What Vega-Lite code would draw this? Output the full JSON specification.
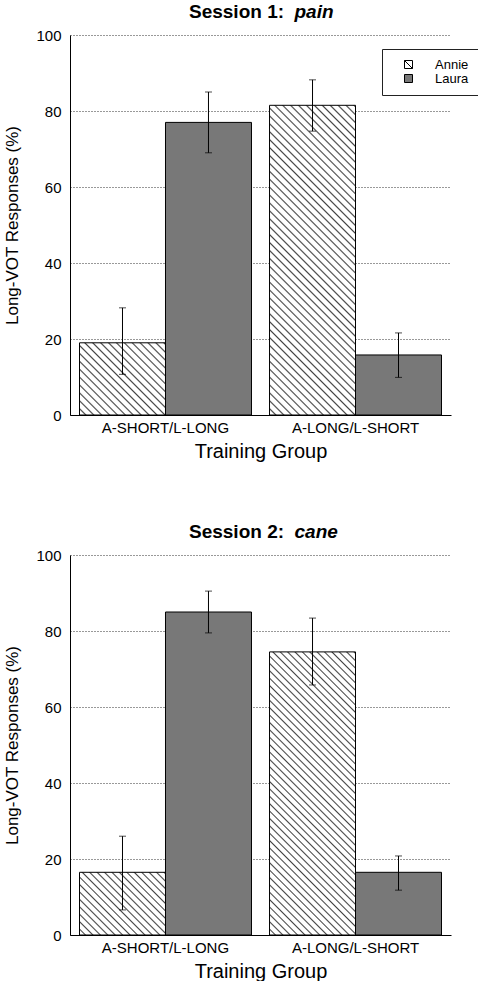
{
 "$schema": "https://vega.github.io/schema/vega-lite/v6.json",
 "background": "white",
 "padding": {"left": 3, "top": 2, "right": 0, "bottom": 0},
 "config": {
  "font": "Liberation Sans",
  "view": {"stroke": null},
  "axis": {"labelFont": "Liberation Sans", "titleFont": "Liberation Sans", "labelColor": "black", "titleColor": "black", "titleFontWeight": "normal"}
 },
 "data": {"values": [
  {"session": 1, "group": "A-SHORT/L-LONG", "speaker": "Annie", "value": 19, "lo": 10.7, "hi": 28.2},
  {"session": 1, "group": "A-SHORT/L-LONG", "speaker": "Laura", "value": 77, "lo": 69, "hi": 85},
  {"session": 1, "group": "A-LONG/L-SHORT", "speaker": "Annie", "value": 81.5, "lo": 74.7, "hi": 88.2},
  {"session": 1, "group": "A-LONG/L-SHORT", "speaker": "Laura", "value": 15.8, "lo": 9.9, "hi": 21.6},
  {"session": 2, "group": "A-SHORT/L-LONG", "speaker": "Annie", "value": 16.5, "lo": 6.6, "hi": 26},
  {"session": 2, "group": "A-SHORT/L-LONG", "speaker": "Laura", "value": 85, "lo": 79.5, "hi": 90.5},
  {"session": 2, "group": "A-LONG/L-SHORT", "speaker": "Annie", "value": 74.5, "lo": 65.8, "hi": 83.4},
  {"session": 2, "group": "A-LONG/L-SHORT", "speaker": "Laura", "value": 16.5, "lo": 11.8, "hi": 20.8}
 ]},
 "spacing": 61,
 "vconcat": [
  {
   "title": {"text": "Session 1:", "frame": "group", "fontSize": 19, "fontWeight": "bold", "anchor": "start", "dx": 119, "dy": 24, "color": "black", "font": "Liberation Sans"},
   "width": 381, "height": 380,
   "transform": [{"filter": "datum.session === 1"}],
   "resolve": {"axis": {"x": "independent"}},
   "layer": [
    {
     "mark": {"type": "bar", "stroke": "black", "strokeWidth": 1},
     "encoding": {
      "x": {"field": "group", "type": "nominal", "sort": ["A-SHORT/L-LONG", "A-LONG/L-SHORT"], "scale": {"paddingInner": 0.095, "paddingOuter": 0.05},
            "axis": {"title": "Training Group", "labelAngle": 0, "ticks": false, "domainColor": "black", "labelFontSize": 15, "titleFontSize": 20, "labelPadding": 5, "titlePadding": 6}},
      "xOffset": {"field": "speaker", "type": "nominal", "sort": ["Annie", "Laura"], "scale": {"paddingInner": 0, "paddingOuter": 0}},
      "y": {"field": "value", "type": "quantitative", "scale": {"domain": [0, 100]},
            "axis": {"title": "Long-VOT Responses (%)", "values": [0, 20, 40, 60, 80, 100], "ticks": false, "labelFontSize": 15, "labelPadding": 9, "titleFontSize": 17, "titlePadding": 14, "grid": true, "gridDash": [1, 2], "gridColor": "#333", "domainColor": "black"}},
      "fill": {
       "field": "speaker", "type": "nominal",
       "scale": {"domain": ["Annie", "Laura"], "range": ["#ffffff", "#787878"]},
       "legend": {
        "orient": "none", "legendX": 312, "legendY": 14, "title": null,
        "fillColor": "white", "strokeColor": "#222", "padding": 9,
        "symbolType": "square", "symbolSize": 64, "symbolStrokeColor": "black", "symbolStrokeWidth": 1,
        "symbolOffset": 11, "labelOffset": 20, "labelFontSize": 13, "labelFont": "Liberation Sans", "labelColor": "black", "rowPadding": -3,
        "encode": {"symbols": {"update": {"shape": {"signal": "datum.value === 'Annie' ? 'M-1,-1H1V1H-1ZM-1,-1L1,1' : 'square'"}}}}
       },
       "condition": [
        {"test": "datum.speaker === 'Annie' && datum.group === 'A-SHORT/L-LONG'", "value": {"gradient": "linear", "x1": 0, "y1": 1, "x2": 1.079, "y2": 0.094, "stops": [
{"offset":0,"color":"#fff"},{"offset":0.03,"color":"#fff"},{"offset":0.04,"color":"#444"},
{"offset":0.05,"color":"#fff"},{"offset":0.08,"color":"#fff"},{"offset":0.09,"color":"#444"},
{"offset":0.1,"color":"#fff"},{"offset":0.13,"color":"#fff"},{"offset":0.14,"color":"#444"},
{"offset":0.15,"color":"#fff"},{"offset":0.18,"color":"#fff"},{"offset":0.19,"color":"#444"},
{"offset":0.2,"color":"#fff"},{"offset":0.23,"color":"#fff"},{"offset":0.24,"color":"#444"},
{"offset":0.25,"color":"#fff"},{"offset":0.28,"color":"#fff"},{"offset":0.29,"color":"#444"},
{"offset":0.3,"color":"#fff"},{"offset":0.33,"color":"#fff"},{"offset":0.34,"color":"#444"},
{"offset":0.35,"color":"#fff"},{"offset":0.38,"color":"#fff"},{"offset":0.39,"color":"#444"},
{"offset":0.4,"color":"#fff"},{"offset":0.43,"color":"#fff"},{"offset":0.44,"color":"#444"},
{"offset":0.45,"color":"#fff"},{"offset":0.48,"color":"#fff"},{"offset":0.49,"color":"#444"},
{"offset":0.5,"color":"#fff"},{"offset":0.53,"color":"#fff"},{"offset":0.54,"color":"#444"},
{"offset":0.55,"color":"#fff"},{"offset":0.58,"color":"#fff"},{"offset":0.59,"color":"#444"},
{"offset":0.6,"color":"#fff"},{"offset":0.63,"color":"#fff"},{"offset":0.64,"color":"#444"},
{"offset":0.65,"color":"#fff"},{"offset":0.68,"color":"#fff"},{"offset":0.69,"color":"#444"},
{"offset":0.7,"color":"#fff"},{"offset":0.73,"color":"#fff"},{"offset":0.74,"color":"#444"},
{"offset":0.75,"color":"#fff"},{"offset":0.78,"color":"#fff"},{"offset":0.79,"color":"#444"},
{"offset":0.8,"color":"#fff"},{"offset":0.83,"color":"#fff"},{"offset":0.84,"color":"#444"},
{"offset":0.85,"color":"#fff"},{"offset":0.88,"color":"#fff"},{"offset":0.89,"color":"#444"},
{"offset":0.9,"color":"#fff"},{"offset":0.93,"color":"#fff"},{"offset":0.94,"color":"#444"},
{"offset":0.95,"color":"#fff"},{"offset":0.98,"color":"#fff"},{"offset":0.99,"color":"#444"},
{"offset":1,"color":"#fff"}]}},
        {"test": "datum.speaker === 'Annie' && datum.group === 'A-LONG/L-SHORT'", "value": {"gradient": "linear", "x1": 0, "y1": 1, "x2": 0.3294, "y2": -0.1862, "stops": [
{"offset":0,"color":"#fff"},{"offset":0.012,"color":"#fff"},{"offset":0.016,"color":"#444"},
{"offset":0.02,"color":"#fff"},{"offset":0.032,"color":"#fff"},{"offset":0.036,"color":"#444"},
{"offset":0.04,"color":"#fff"},{"offset":0.052,"color":"#fff"},{"offset":0.056,"color":"#444"},
{"offset":0.06,"color":"#fff"},{"offset":0.072,"color":"#fff"},{"offset":0.076,"color":"#444"},
{"offset":0.08,"color":"#fff"},{"offset":0.092,"color":"#fff"},{"offset":0.096,"color":"#444"},
{"offset":0.1,"color":"#fff"},{"offset":0.112,"color":"#fff"},{"offset":0.116,"color":"#444"},
{"offset":0.12,"color":"#fff"},{"offset":0.132,"color":"#fff"},{"offset":0.136,"color":"#444"},
{"offset":0.14,"color":"#fff"},{"offset":0.152,"color":"#fff"},{"offset":0.156,"color":"#444"},
{"offset":0.16,"color":"#fff"},{"offset":0.172,"color":"#fff"},{"offset":0.176,"color":"#444"},
{"offset":0.18,"color":"#fff"},{"offset":0.192,"color":"#fff"},{"offset":0.196,"color":"#444"},
{"offset":0.2,"color":"#fff"},{"offset":0.212,"color":"#fff"},{"offset":0.216,"color":"#444"},
{"offset":0.22,"color":"#fff"},{"offset":0.232,"color":"#fff"},{"offset":0.236,"color":"#444"},
{"offset":0.24,"color":"#fff"},{"offset":0.252,"color":"#fff"},{"offset":0.256,"color":"#444"},
{"offset":0.26,"color":"#fff"},{"offset":0.272,"color":"#fff"},{"offset":0.276,"color":"#444"},
{"offset":0.28,"color":"#fff"},{"offset":0.292,"color":"#fff"},{"offset":0.296,"color":"#444"},
{"offset":0.3,"color":"#fff"},{"offset":0.312,"color":"#fff"},{"offset":0.316,"color":"#444"},
{"offset":0.32,"color":"#fff"},{"offset":0.332,"color":"#fff"},{"offset":0.336,"color":"#444"},
{"offset":0.34,"color":"#fff"},{"offset":0.352,"color":"#fff"},{"offset":0.356,"color":"#444"},
{"offset":0.36,"color":"#fff"},{"offset":0.372,"color":"#fff"},{"offset":0.376,"color":"#444"},
{"offset":0.38,"color":"#fff"},{"offset":0.392,"color":"#fff"},{"offset":0.396,"color":"#444"},
{"offset":0.4,"color":"#fff"},{"offset":0.412,"color":"#fff"},{"offset":0.416,"color":"#444"},
{"offset":0.42,"color":"#fff"},{"offset":0.432,"color":"#fff"},{"offset":0.436,"color":"#444"},
{"offset":0.44,"color":"#fff"},{"offset":0.452,"color":"#fff"},{"offset":0.456,"color":"#444"},
{"offset":0.46,"color":"#fff"},{"offset":0.472,"color":"#fff"},{"offset":0.476,"color":"#444"},
{"offset":0.48,"color":"#fff"},{"offset":0.492,"color":"#fff"},{"offset":0.496,"color":"#444"},
{"offset":0.5,"color":"#fff"},{"offset":0.512,"color":"#fff"},{"offset":0.516,"color":"#444"},
{"offset":0.52,"color":"#fff"},{"offset":0.532,"color":"#fff"},{"offset":0.536,"color":"#444"},
{"offset":0.54,"color":"#fff"},{"offset":0.552,"color":"#fff"},{"offset":0.556,"color":"#444"},
{"offset":0.56,"color":"#fff"},{"offset":0.572,"color":"#fff"},{"offset":0.576,"color":"#444"},
{"offset":0.58,"color":"#fff"},{"offset":0.592,"color":"#fff"},{"offset":0.596,"color":"#444"},
{"offset":0.6,"color":"#fff"},{"offset":0.612,"color":"#fff"},{"offset":0.616,"color":"#444"},
{"offset":0.62,"color":"#fff"},{"offset":0.632,"color":"#fff"},{"offset":0.636,"color":"#444"},
{"offset":0.64,"color":"#fff"},{"offset":0.652,"color":"#fff"},{"offset":0.656,"color":"#444"},
{"offset":0.66,"color":"#fff"},{"offset":0.672,"color":"#fff"},{"offset":0.676,"color":"#444"},
{"offset":0.68,"color":"#fff"},{"offset":0.692,"color":"#fff"},{"offset":0.696,"color":"#444"},
{"offset":0.7,"color":"#fff"},{"offset":0.712,"color":"#fff"},{"offset":0.716,"color":"#444"},
{"offset":0.72,"color":"#fff"},{"offset":0.732,"color":"#fff"},{"offset":0.736,"color":"#444"},
{"offset":0.74,"color":"#fff"},{"offset":0.752,"color":"#fff"},{"offset":0.756,"color":"#444"},
{"offset":0.76,"color":"#fff"},{"offset":0.772,"color":"#fff"},{"offset":0.776,"color":"#444"},
{"offset":0.78,"color":"#fff"},{"offset":0.792,"color":"#fff"},{"offset":0.796,"color":"#444"},
{"offset":0.8,"color":"#fff"},{"offset":0.812,"color":"#fff"},{"offset":0.816,"color":"#444"},
{"offset":0.82,"color":"#fff"},{"offset":0.832,"color":"#fff"},{"offset":0.836,"color":"#444"},
{"offset":0.84,"color":"#fff"},{"offset":0.852,"color":"#fff"},{"offset":0.856,"color":"#444"},
{"offset":0.86,"color":"#fff"},{"offset":0.872,"color":"#fff"},{"offset":0.876,"color":"#444"},
{"offset":0.88,"color":"#fff"},{"offset":0.892,"color":"#fff"},{"offset":0.896,"color":"#444"},
{"offset":0.9,"color":"#fff"},{"offset":0.912,"color":"#fff"},{"offset":0.916,"color":"#444"},
{"offset":0.92,"color":"#fff"},{"offset":0.932,"color":"#fff"},{"offset":0.936,"color":"#444"},
{"offset":0.94,"color":"#fff"},{"offset":0.952,"color":"#fff"},{"offset":0.956,"color":"#444"},
{"offset":0.96,"color":"#fff"},{"offset":0.972,"color":"#fff"},{"offset":0.976,"color":"#444"},
{"offset":0.98,"color":"#fff"},{"offset":0.992,"color":"#fff"},{"offset":0.996,"color":"#444"},
{"offset":1,"color":"#fff"}]}}
       ]
      }
     }
    },
    {
     "mark": {"type": "rule", "color": "black", "strokeWidth": 1},
     "encoding": {
      "x": {"field": "group", "type": "nominal", "sort": ["A-SHORT/L-LONG", "A-LONG/L-SHORT"],
            "axis": {"orient": "top", "domain": false, "ticks": false, "labels": false, "grid": false, "title": "pain", "titleFontSize": 19, "titleFontWeight": "bold", "titleFontStyle": "italic", "titleAnchor": "start", "titleAlign": "left", "titleX": 224, "titleY": -18, "titleBaseline": "alphabetic"}},
      "xOffset": {"field": "speaker", "type": "nominal", "sort": ["Annie", "Laura"]},
      "y": {"field": "lo", "type": "quantitative", "title": "Long-VOT Responses (%)"},
      "y2": {"field": "hi"}
     }
    },
    {
     "mark": {"type": "tick", "color": "black", "size": 7, "thickness": 1},
     "encoding": {
      "x": {"field": "group", "type": "nominal", "sort": ["A-SHORT/L-LONG", "A-LONG/L-SHORT"], "axis": null},
      "xOffset": {"field": "speaker", "type": "nominal", "sort": ["Annie", "Laura"]},
      "y": {"field": "lo", "type": "quantitative", "title": "Long-VOT Responses (%)"}
     }
    },
    {
     "mark": {"type": "tick", "color": "black", "size": 7, "thickness": 1},
     "encoding": {
      "x": {"field": "group", "type": "nominal", "sort": ["A-SHORT/L-LONG", "A-LONG/L-SHORT"], "axis": null},
      "xOffset": {"field": "speaker", "type": "nominal", "sort": ["Annie", "Laura"]},
      "y": {"field": "hi", "type": "quantitative", "title": "Long-VOT Responses (%)"}
     }
    }
   ]
  },
  {
   "title": {"text": "Session 2:", "frame": "group", "fontSize": 19, "fontWeight": "bold", "anchor": "start", "dx": 119, "dy": 24, "color": "black", "font": "Liberation Sans"},
   "width": 381, "height": 380,
   "transform": [{"filter": "datum.session === 2"}],
   "resolve": {"axis": {"x": "independent"}},
   "layer": [
    {
     "mark": {"type": "bar", "stroke": "black", "strokeWidth": 1},
     "encoding": {
      "x": {"field": "group", "type": "nominal", "sort": ["A-SHORT/L-LONG", "A-LONG/L-SHORT"], "scale": {"paddingInner": 0.095, "paddingOuter": 0.05},
            "axis": {"title": "Training Group", "labelAngle": 0, "ticks": false, "domainColor": "black", "labelFontSize": 15, "titleFontSize": 20, "labelPadding": 5, "titlePadding": 6}},
      "xOffset": {"field": "speaker", "type": "nominal", "sort": ["Annie", "Laura"], "scale": {"paddingInner": 0, "paddingOuter": 0}},
      "y": {"field": "value", "type": "quantitative", "scale": {"domain": [0, 100]},
            "axis": {"title": "Long-VOT Responses (%)", "values": [0, 20, 40, 60, 80, 100], "ticks": false, "labelFontSize": 15, "labelPadding": 9, "titleFontSize": 17, "titlePadding": 14, "grid": true, "gridDash": [1, 2], "gridColor": "#333", "domainColor": "black"}},
      "fill": {
       "field": "speaker", "type": "nominal",
       "scale": {"domain": ["Annie", "Laura"], "range": ["#ffffff", "#787878"]},
       "legend": {
        "orient": "none", "legendX": 312, "legendY": 14, "title": null,
        "fillColor": "white", "strokeColor": "#222", "padding": 9,
        "symbolType": "square", "symbolSize": 64, "symbolStrokeColor": "black", "symbolStrokeWidth": 1,
        "symbolOffset": 11, "labelOffset": 20, "labelFontSize": 13, "labelFont": "Liberation Sans", "labelColor": "black", "rowPadding": -3,
        "encode": {"symbols": {"update": {"shape": {"signal": "datum.value === 'Annie' ? 'M-1,-1H1V1H-1ZM-1,-1L1,1' : 'square'"}}}}
       },
       "condition": [
        {"test": "datum.speaker === 'Annie' && datum.group === 'A-SHORT/L-LONG'", "value": {"gradient": "linear", "x1": 0, "y1": 1, "x2": 1.129, "y2": 0.177, "stops": [
{"offset":0,"color":"#fff"},{"offset":0.03,"color":"#fff"},{"offset":0.04,"color":"#444"},
{"offset":0.05,"color":"#fff"},{"offset":0.08,"color":"#fff"},{"offset":0.09,"color":"#444"},
{"offset":0.1,"color":"#fff"},{"offset":0.13,"color":"#fff"},{"offset":0.14,"color":"#444"},
{"offset":0.15,"color":"#fff"},{"offset":0.18,"color":"#fff"},{"offset":0.19,"color":"#444"},
{"offset":0.2,"color":"#fff"},{"offset":0.23,"color":"#fff"},{"offset":0.24,"color":"#444"},
{"offset":0.25,"color":"#fff"},{"offset":0.28,"color":"#fff"},{"offset":0.29,"color":"#444"},
{"offset":0.3,"color":"#fff"},{"offset":0.33,"color":"#fff"},{"offset":0.34,"color":"#444"},
{"offset":0.35,"color":"#fff"},{"offset":0.38,"color":"#fff"},{"offset":0.39,"color":"#444"},
{"offset":0.4,"color":"#fff"},{"offset":0.43,"color":"#fff"},{"offset":0.44,"color":"#444"},
{"offset":0.45,"color":"#fff"},{"offset":0.48,"color":"#fff"},{"offset":0.49,"color":"#444"},
{"offset":0.5,"color":"#fff"},{"offset":0.53,"color":"#fff"},{"offset":0.54,"color":"#444"},
{"offset":0.55,"color":"#fff"},{"offset":0.58,"color":"#fff"},{"offset":0.59,"color":"#444"},
{"offset":0.6,"color":"#fff"},{"offset":0.63,"color":"#fff"},{"offset":0.64,"color":"#444"},
{"offset":0.65,"color":"#fff"},{"offset":0.68,"color":"#fff"},{"offset":0.69,"color":"#444"},
{"offset":0.7,"color":"#fff"},{"offset":0.73,"color":"#fff"},{"offset":0.74,"color":"#444"},
{"offset":0.75,"color":"#fff"},{"offset":0.78,"color":"#fff"},{"offset":0.79,"color":"#444"},
{"offset":0.8,"color":"#fff"},{"offset":0.83,"color":"#fff"},{"offset":0.84,"color":"#444"},
{"offset":0.85,"color":"#fff"},{"offset":0.88,"color":"#fff"},{"offset":0.89,"color":"#444"},
{"offset":0.9,"color":"#fff"},{"offset":0.93,"color":"#fff"},{"offset":0.94,"color":"#444"},
{"offset":0.95,"color":"#fff"},{"offset":0.98,"color":"#fff"},{"offset":0.99,"color":"#444"},
{"offset":1,"color":"#fff"}]}},
        {"test": "datum.speaker === 'Annie' && datum.group === 'A-LONG/L-SHORT'", "value": {"gradient": "linear", "x1": 0, "y1": 1, "x2": 0.3626, "y2": -0.1936, "stops": [
{"offset":0,"color":"#fff"},{"offset":0.012,"color":"#fff"},{"offset":0.016,"color":"#444"},
{"offset":0.02,"color":"#fff"},{"offset":0.032,"color":"#fff"},{"offset":0.036,"color":"#444"},
{"offset":0.04,"color":"#fff"},{"offset":0.052,"color":"#fff"},{"offset":0.056,"color":"#444"},
{"offset":0.06,"color":"#fff"},{"offset":0.072,"color":"#fff"},{"offset":0.076,"color":"#444"},
{"offset":0.08,"color":"#fff"},{"offset":0.092,"color":"#fff"},{"offset":0.096,"color":"#444"},
{"offset":0.1,"color":"#fff"},{"offset":0.112,"color":"#fff"},{"offset":0.116,"color":"#444"},
{"offset":0.12,"color":"#fff"},{"offset":0.132,"color":"#fff"},{"offset":0.136,"color":"#444"},
{"offset":0.14,"color":"#fff"},{"offset":0.152,"color":"#fff"},{"offset":0.156,"color":"#444"},
{"offset":0.16,"color":"#fff"},{"offset":0.172,"color":"#fff"},{"offset":0.176,"color":"#444"},
{"offset":0.18,"color":"#fff"},{"offset":0.192,"color":"#fff"},{"offset":0.196,"color":"#444"},
{"offset":0.2,"color":"#fff"},{"offset":0.212,"color":"#fff"},{"offset":0.216,"color":"#444"},
{"offset":0.22,"color":"#fff"},{"offset":0.232,"color":"#fff"},{"offset":0.236,"color":"#444"},
{"offset":0.24,"color":"#fff"},{"offset":0.252,"color":"#fff"},{"offset":0.256,"color":"#444"},
{"offset":0.26,"color":"#fff"},{"offset":0.272,"color":"#fff"},{"offset":0.276,"color":"#444"},
{"offset":0.28,"color":"#fff"},{"offset":0.292,"color":"#fff"},{"offset":0.296,"color":"#444"},
{"offset":0.3,"color":"#fff"},{"offset":0.312,"color":"#fff"},{"offset":0.316,"color":"#444"},
{"offset":0.32,"color":"#fff"},{"offset":0.332,"color":"#fff"},{"offset":0.336,"color":"#444"},
{"offset":0.34,"color":"#fff"},{"offset":0.352,"color":"#fff"},{"offset":0.356,"color":"#444"},
{"offset":0.36,"color":"#fff"},{"offset":0.372,"color":"#fff"},{"offset":0.376,"color":"#444"},
{"offset":0.38,"color":"#fff"},{"offset":0.392,"color":"#fff"},{"offset":0.396,"color":"#444"},
{"offset":0.4,"color":"#fff"},{"offset":0.412,"color":"#fff"},{"offset":0.416,"color":"#444"},
{"offset":0.42,"color":"#fff"},{"offset":0.432,"color":"#fff"},{"offset":0.436,"color":"#444"},
{"offset":0.44,"color":"#fff"},{"offset":0.452,"color":"#fff"},{"offset":0.456,"color":"#444"},
{"offset":0.46,"color":"#fff"},{"offset":0.472,"color":"#fff"},{"offset":0.476,"color":"#444"},
{"offset":0.48,"color":"#fff"},{"offset":0.492,"color":"#fff"},{"offset":0.496,"color":"#444"},
{"offset":0.5,"color":"#fff"},{"offset":0.512,"color":"#fff"},{"offset":0.516,"color":"#444"},
{"offset":0.52,"color":"#fff"},{"offset":0.532,"color":"#fff"},{"offset":0.536,"color":"#444"},
{"offset":0.54,"color":"#fff"},{"offset":0.552,"color":"#fff"},{"offset":0.556,"color":"#444"},
{"offset":0.56,"color":"#fff"},{"offset":0.572,"color":"#fff"},{"offset":0.576,"color":"#444"},
{"offset":0.58,"color":"#fff"},{"offset":0.592,"color":"#fff"},{"offset":0.596,"color":"#444"},
{"offset":0.6,"color":"#fff"},{"offset":0.612,"color":"#fff"},{"offset":0.616,"color":"#444"},
{"offset":0.62,"color":"#fff"},{"offset":0.632,"color":"#fff"},{"offset":0.636,"color":"#444"},
{"offset":0.64,"color":"#fff"},{"offset":0.652,"color":"#fff"},{"offset":0.656,"color":"#444"},
{"offset":0.66,"color":"#fff"},{"offset":0.672,"color":"#fff"},{"offset":0.676,"color":"#444"},
{"offset":0.68,"color":"#fff"},{"offset":0.692,"color":"#fff"},{"offset":0.696,"color":"#444"},
{"offset":0.7,"color":"#fff"},{"offset":0.712,"color":"#fff"},{"offset":0.716,"color":"#444"},
{"offset":0.72,"color":"#fff"},{"offset":0.732,"color":"#fff"},{"offset":0.736,"color":"#444"},
{"offset":0.74,"color":"#fff"},{"offset":0.752,"color":"#fff"},{"offset":0.756,"color":"#444"},
{"offset":0.76,"color":"#fff"},{"offset":0.772,"color":"#fff"},{"offset":0.776,"color":"#444"},
{"offset":0.78,"color":"#fff"},{"offset":0.792,"color":"#fff"},{"offset":0.796,"color":"#444"},
{"offset":0.8,"color":"#fff"},{"offset":0.812,"color":"#fff"},{"offset":0.816,"color":"#444"},
{"offset":0.82,"color":"#fff"},{"offset":0.832,"color":"#fff"},{"offset":0.836,"color":"#444"},
{"offset":0.84,"color":"#fff"},{"offset":0.852,"color":"#fff"},{"offset":0.856,"color":"#444"},
{"offset":0.86,"color":"#fff"},{"offset":0.872,"color":"#fff"},{"offset":0.876,"color":"#444"},
{"offset":0.88,"color":"#fff"},{"offset":0.892,"color":"#fff"},{"offset":0.896,"color":"#444"},
{"offset":0.9,"color":"#fff"},{"offset":0.912,"color":"#fff"},{"offset":0.916,"color":"#444"},
{"offset":0.92,"color":"#fff"},{"offset":0.932,"color":"#fff"},{"offset":0.936,"color":"#444"},
{"offset":0.94,"color":"#fff"},{"offset":0.952,"color":"#fff"},{"offset":0.956,"color":"#444"},
{"offset":0.96,"color":"#fff"},{"offset":0.972,"color":"#fff"},{"offset":0.976,"color":"#444"},
{"offset":0.98,"color":"#fff"},{"offset":0.992,"color":"#fff"},{"offset":0.996,"color":"#444"},
{"offset":1,"color":"#fff"}]}}
       ]
      }
     }
    },
    {
     "mark": {"type": "rule", "color": "black", "strokeWidth": 1},
     "encoding": {
      "x": {"field": "group", "type": "nominal", "sort": ["A-SHORT/L-LONG", "A-LONG/L-SHORT"],
            "axis": {"orient": "top", "domain": false, "ticks": false, "labels": false, "grid": false, "title": "cane", "titleFontSize": 19, "titleFontWeight": "bold", "titleFontStyle": "italic", "titleAnchor": "start", "titleAlign": "left", "titleX": 224, "titleY": -18, "titleBaseline": "alphabetic"}},
      "xOffset": {"field": "speaker", "type": "nominal", "sort": ["Annie", "Laura"]},
      "y": {"field": "lo", "type": "quantitative", "title": "Long-VOT Responses (%)"},
      "y2": {"field": "hi"}
     }
    },
    {
     "mark": {"type": "tick", "color": "black", "size": 7, "thickness": 1},
     "encoding": {
      "x": {"field": "group", "type": "nominal", "sort": ["A-SHORT/L-LONG", "A-LONG/L-SHORT"], "axis": null},
      "xOffset": {"field": "speaker", "type": "nominal", "sort": ["Annie", "Laura"]},
      "y": {"field": "lo", "type": "quantitative", "title": "Long-VOT Responses (%)"}
     }
    },
    {
     "mark": {"type": "tick", "color": "black", "size": 7, "thickness": 1},
     "encoding": {
      "x": {"field": "group", "type": "nominal", "sort": ["A-SHORT/L-LONG", "A-LONG/L-SHORT"], "axis": null},
      "xOffset": {"field": "speaker", "type": "nominal", "sort": ["Annie", "Laura"]},
      "y": {"field": "hi", "type": "quantitative", "title": "Long-VOT Responses (%)"}
     }
    }
   ]
  }
 ]
}
